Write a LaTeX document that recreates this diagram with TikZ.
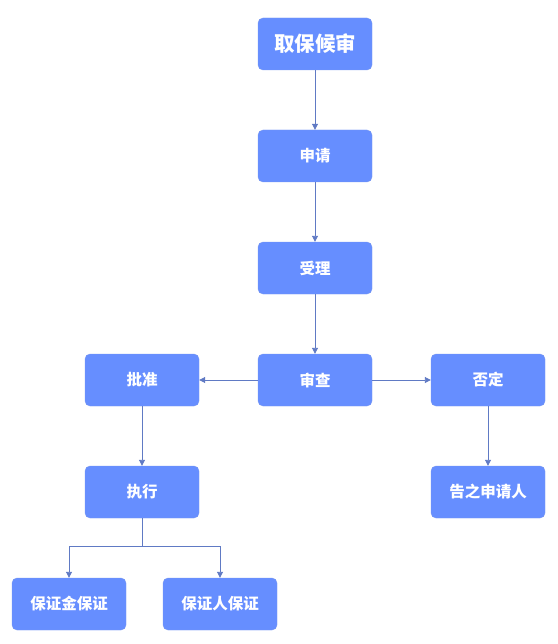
\documentclass[tikz,border=0pt]{standalone}
\usepackage{fontspec}
\usepackage{tikz}
\usetikzlibrary{arrows.meta, positioning}
\newfontfamily\cjk{Noto Sans CJK SC}
\definecolor{boxblue}{RGB}{102, 142, 255}
\definecolor{boxedge}{RGB}{118, 150, 240}
\definecolor{linkblue}{RGB}{96, 122, 196}
\tikzstyle{stepnode} = [rectangle, rounded corners=5pt, minimum width=114pt, minimum height=52pt, text centered, draw=boxedge, fill=boxblue, text=white, font=\cjk\bfseries\fontsize{15.5}{18}\selectfont]
\tikzstyle{arrow} = [linkblue, line width=0.9pt, -{Triangle[length=6pt, width=6pt]}]

\begin{document}
\begin{tikzpicture}[x=1pt, y=-1pt]
    \useasboundingbox (0, 0) rectangle (557, 644);

    % Main chain
    \node[stepnode, font=\cjk\bfseries\fontsize{20.5}{24}\selectfont] (start) at (315, 44) {取保候审};
    \node[stepnode] (apply) at (315, 156) {申请};
    \node[stepnode] (accept) at (315, 268) {受理};
    \node[stepnode] (review) at (315, 380) {审查};

    % Branches
    \node[stepnode] (approve) at (142, 380) {批准};
    \node[stepnode] (reject) at (488, 380) {否定};
    \node[stepnode] (execute) at (142, 492) {执行};
    \node[stepnode] (notify) at (488, 492) {告之申请人};

    % Guarantee types
    \node[stepnode] (bail) at (69, 604) {保证金保证};
    \node[stepnode] (surety) at (220, 604) {保证人保证};

    % Connections
    \draw[arrow] (start) -- (apply);
    \draw[arrow] (apply) -- (accept);
    \draw[arrow] (accept) -- (review);
    \draw[arrow] (review) -- (approve);
    \draw[arrow] (review) -- (reject);
    \draw[arrow] (approve) -- (execute);
    \draw[arrow] (reject) -- (notify);
    \coordinate (split) at (142, 546);
    \draw[arrow] (execute.south) -- (split) -| (bail.north);
    \draw[arrow] (split) -| (surety.north);
\end{tikzpicture}
\end{document}
